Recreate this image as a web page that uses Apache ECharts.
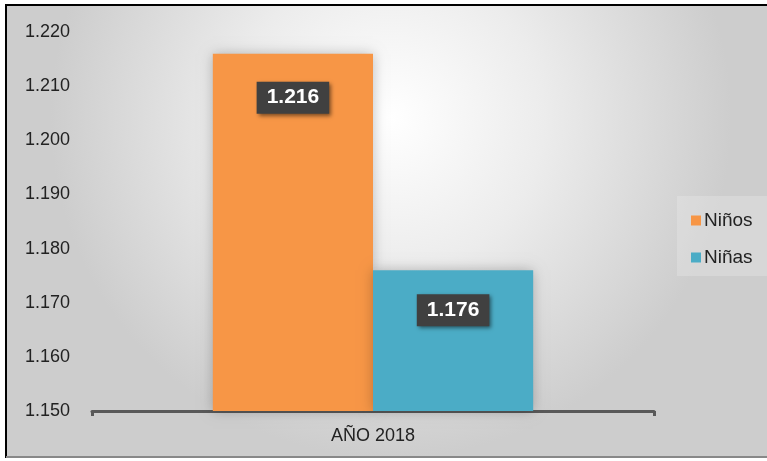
<!DOCTYPE html>
<html><head><meta charset="utf-8">
<script src="https://cdn.jsdelivr.net/npm/echarts@6/dist/echarts.min.js"></script>
<style>html,body{margin:0;padding:0;background:#fff}#c{width:767px;height:461px}</style>
</head><body><div id="c"></div>
<script>
const categories = ['AÑO 2018'];
const seriesNames = ['Niños', 'Niñas'];
const ninos = [1.216];
const ninas = [1.176];
const yMin = 1.15, yMax = 1.22, yStep = 0.01;

const chart = echarts.init(document.getElementById('c'));
const labelCfg = {
  show: true, position: 'insideTop', distance: 28,
  formatter: p => p.value.toFixed(3),
  color: '#fff', fontWeight: 'bold', fontSize: 21, lineHeight: 22, fontFamily: 'Liberation Sans, Arial',
  backgroundColor: '#404040', padding: [5, 10, 5, 10],
  shadowColor: 'rgba(0,0,0,0.5)', shadowBlur: 4, shadowOffsetX: 2, shadowOffsetY: 2
};
chart.setOption({
  animation: false,
  textStyle: {fontFamily: 'Liberation Sans, Arial'},
  graphic: [
    {type: 'rect', z: -10, silent: true, shape: {x: 6, y: 5, width: 770, height: 452},
     style: {fill: {type: 'radial', x: 0.5, y: 0.25, r: 0.75,
       colorStops: [{offset: 0, color: '#ffffff'}, {offset: 0.45, color: '#ececec'}, {offset: 1, color: '#cdcdcd'}]},
       stroke: '#000', lineWidth: 2}},
    {type: 'rect', z: -9, silent: true, shape: {x: 6, y: 456, width: 770, height: 2}, style: {fill: '#888'}},
    {type: 'rect', z: -8, silent: true, shape: {x: 677, y: 196, width: 95, height: 80}, style: {fill: 'rgba(240,240,240,0.3)'}}
  ],
  grid: {left: 92, right: 113, top: 32, bottom: 50},
  legend: {
    orient: 'vertical', left: 686, top: 206, itemWidth: 10, itemHeight: 10, itemGap: 18,
    icon: 'rect', data: seriesNames,
    textStyle: {fontSize: 19, color: '#222', padding: [0, 0, 0, -2]}
  },
  xAxis: {
    type: 'category', data: categories,
    axisLine: {lineStyle: {color: '#595959', width: 3}},
    axisTick: {show: true, length: 5, lineStyle: {color: '#595959', width: 3}},
    axisLabel: {fontSize: 18, color: '#222', margin: 16}
  },
  yAxis: {
    type: 'value', min: yMin, max: yMax, interval: yStep,
    axisLine: {show: false}, axisTick: {show: false}, splitLine: {show: false},
    axisLabel: {fontSize: 18, color: '#222', margin: 22, formatter: v => v.toFixed(3)}
  },
  series: [
    {name: seriesNames[0], type: 'bar', data: ninos, barGap: '0%', barCategoryGap: '43%',
     itemStyle: {color: '#F79646', shadowColor: 'rgba(0,0,0,0.25)', shadowBlur: 12}, label: labelCfg},
    {name: seriesNames[1], type: 'bar', data: ninas,
     itemStyle: {color: '#4BACC6', shadowColor: 'rgba(0,0,0,0.25)', shadowBlur: 12}, label: Object.assign({}, labelCfg, {distance: 24})}
  ]
});
</script></body></html>
